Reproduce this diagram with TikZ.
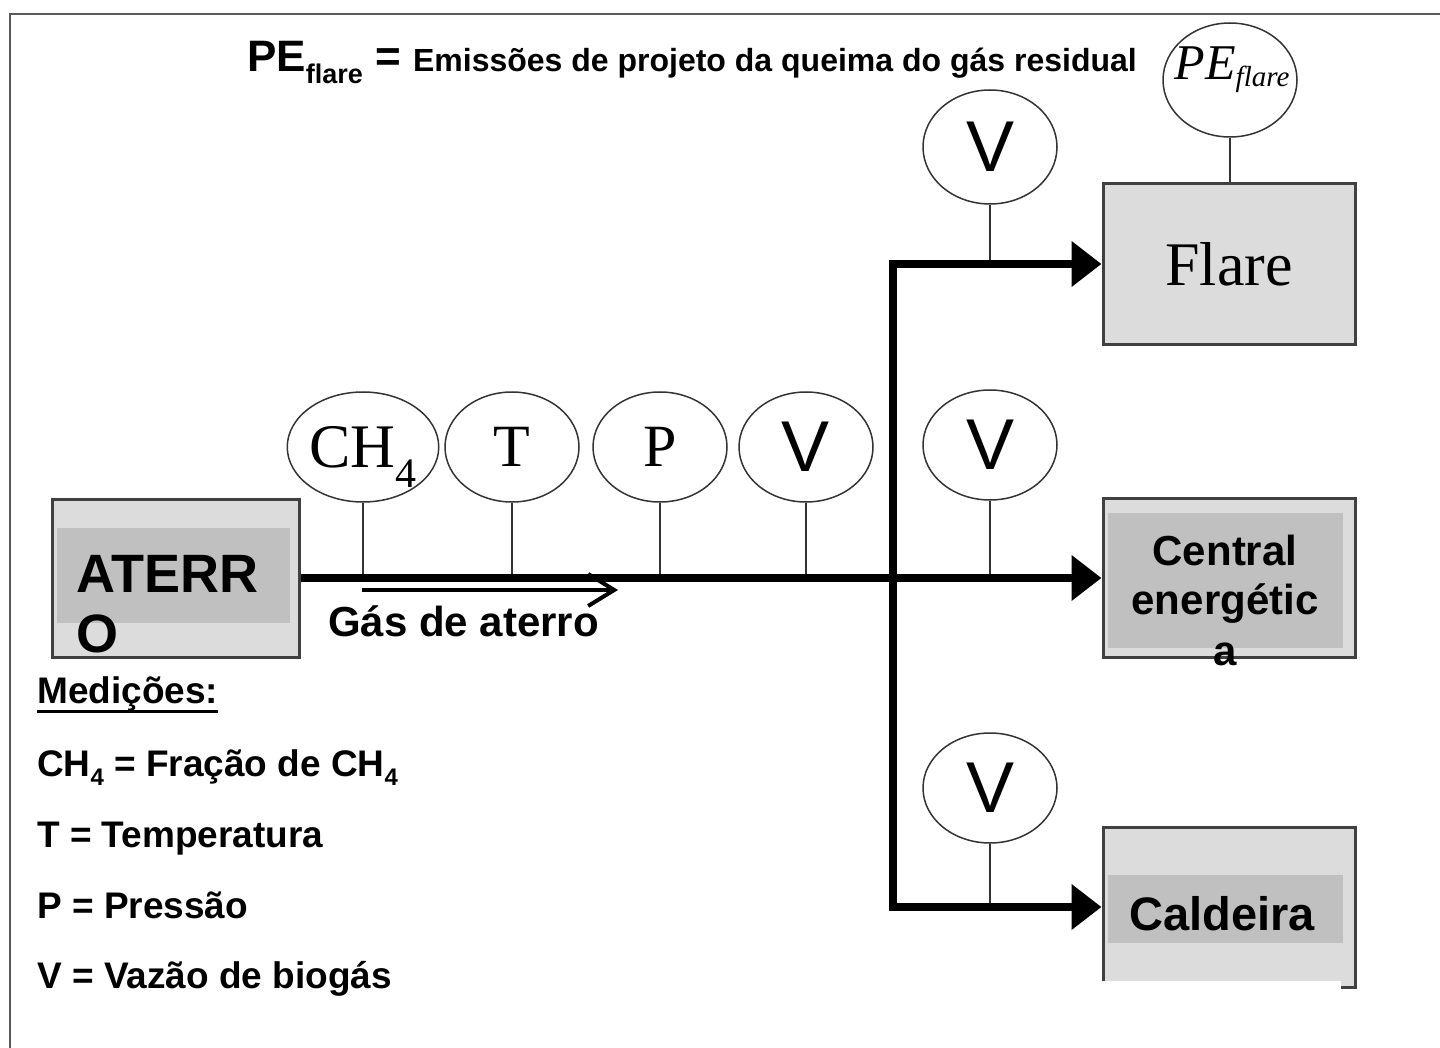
\documentclass[tikz,border=0pt]{standalone}
\usepackage{fontspec}
\setmainfont{Liberation Serif}
\setsansfont{Liberation Sans}
\usepackage{xcolor}
\usepackage{tikz}
\usetikzlibrary{shapes.geometric}
\usetikzlibrary{arrows.meta}
\definecolor{boxfill}{HTML}{DCDCDC}
\definecolor{bandfill}{HTML}{C0C0C0}
\definecolor{boxline}{HTML}{404040}
\definecolor{framegray}{HTML}{5A5A5A}
\newcommand{\setsz}[1]{\fontsize{#1}{#1}\selectfont}

\begin{document}
\begin{tikzpicture}[x=1pt, y=-1pt, every node/.style={inner sep=0pt},
	meter/.style={ellipse, draw=black!80, line width=1.5pt, minimum width=134pt, minimum height=110pt},
	unitbox/.style={rectangle, draw=boxline, line width=3pt, fill=boxfill, minimum width=252pt, minimum height=159pt},
	pipe/.style={line width=8pt, -{Triangle[length=30pt,width=44pt]}},
	stem/.style={line width=1.5pt, black!80},
	lbl/.style={font=\sffamily\bfseries}]
	\useasboundingbox (0,0) rectangle (1440,1048);
	\draw[framegray, line width=2.5pt] (10,1048) -- (10,14) -- (1440,14);

	% Title
	\node[lbl, anchor=base west] (title) at (247,72) {\setsz{44}PE\raisebox{-12pt}{\setsz{27}flare} = {\setsz{32}Emissões de projeto da queima do gás residual}};

	% Boxes
	\node[unitbox, minimum width=247pt, minimum height=158pt] (aterro) at (175.5,578) {};
	\node[unitbox, minimum height=161pt] (flare) at (1229,264) {\setsz{62}Flare};
	\node[unitbox] (central) at (1229,578) {};
	\node[unitbox, minimum height=160pt] (caldeira) at (1229,907) {};
	\fill[bandfill] (57,528) rectangle (290,623);
	\fill[bandfill] (1108,513) rectangle (1343,648);
	\fill[bandfill] (1108,875) rectangle (1343,943);
	\fill[white] (1085,981) rectangle (1341,1000);
	\node[lbl, anchor=base west] (aterrotxt) at (76,592) {\setsz{54}ATERR};
	\node[lbl, anchor=base west] (aterrotxtb) at (76,652) {\setsz{54}O};
	\node[lbl, anchor=base] (centraltxt) at (1225,565) {\setsz{42}Central};
	\node[lbl, anchor=base] (energtxt) at (1225,614) {\setsz{42}energétic};
	\node[lbl, anchor=base] (energtxtb) at (1225,665) {\setsz{42}a};
	\node[lbl, anchor=base] (caldeiratxt) at (1222,930) {\setsz{47}Caldeira};

	% Meters
	\node[meter] (ch4) at (363,447) {\setsz{62}CH\smash{\raisebox{-20pt}{\setsz{42}4}}};
	\node[meter] (temp) at (512,447) {\setsz{60}T};
	\node[meter] (pres) at (660,447) {\setsz{60}P};
	\node[meter] (vmain) at (806,447) {\sffamily\setsz{72}V};
	\node[meter] (vcentral) at (990,445) {\sffamily\setsz{72}V};
	\node[meter, minimum height=114pt] (vflare) at (990,147) {\sffamily\setsz{72}V};
	\node[meter] (vcaldeira) at (990,788) {\sffamily\setsz{72}V};
	\node[meter, minimum height=114pt] (peflare) at (1230,80) {};
	\node[anchor=base] (peflaretxt) at (1232,80) {\itshape\setsz{50}PE\raisebox{-7pt}{\setsz{29}flare}};

	% Stems
	\foreach \m in {ch4,temp,pres,vmain,vcentral}
		\draw[stem] (\m.south) -- (\m.south |- aterro.east);
	\draw[stem] (vflare.south) -- (vflare.south |- flare.west);
	\draw[stem] (vcaldeira.south) -- (vcaldeira.south |- caldeira.west);
	\draw[stem] (peflare.south) -- (peflare.south |- flare.north);

	% Gas lines
	\coordinate (split) at (893,578);
	\draw[pipe] (aterro.east) -- (central.west);
	\draw[pipe] (split) -- (split |- flare.west) -- (flare.west);
	\draw[pipe] (split) -- (split |- caldeira.west) -- (caldeira.west);

	\coordinate (gasstart) at (362,590);
	\coordinate (gasend) at (618,590);
	\draw[line width=4pt, -{Straight Barb[length=26pt,width=32pt]}] (gasstart) -- (gasend);
	\node[lbl, anchor=base west] (gastxt) at (328,636) {\setsz{42}Gás de aterro};

	% Legend
	\node[lbl, anchor=base west] (medtxt) at (37,703) {\setsz{37}Medições:};
	\draw[line width=3pt] ([yshift=-8pt]medtxt.base west) -- ([yshift=-8pt]medtxt.base east);
	\node[lbl, anchor=base west] (ch4txt) at (37,776) {\setsz{37}CH\raisebox{-9pt}{\setsz{24}4} = Fração de CH\raisebox{-9pt}{\setsz{24}4}};
	\node[lbl, anchor=base west] (temptxt) at (37,847) {\setsz{37}T = Temperatura};
	\node[lbl, anchor=base west] (prestxt) at (37,918) {\setsz{37}P = Pressão};
	\node[lbl, anchor=base west] (vtxt) at (37,988) {\setsz{37}V = Vazão de biogás};
\end{tikzpicture}
\end{document}
